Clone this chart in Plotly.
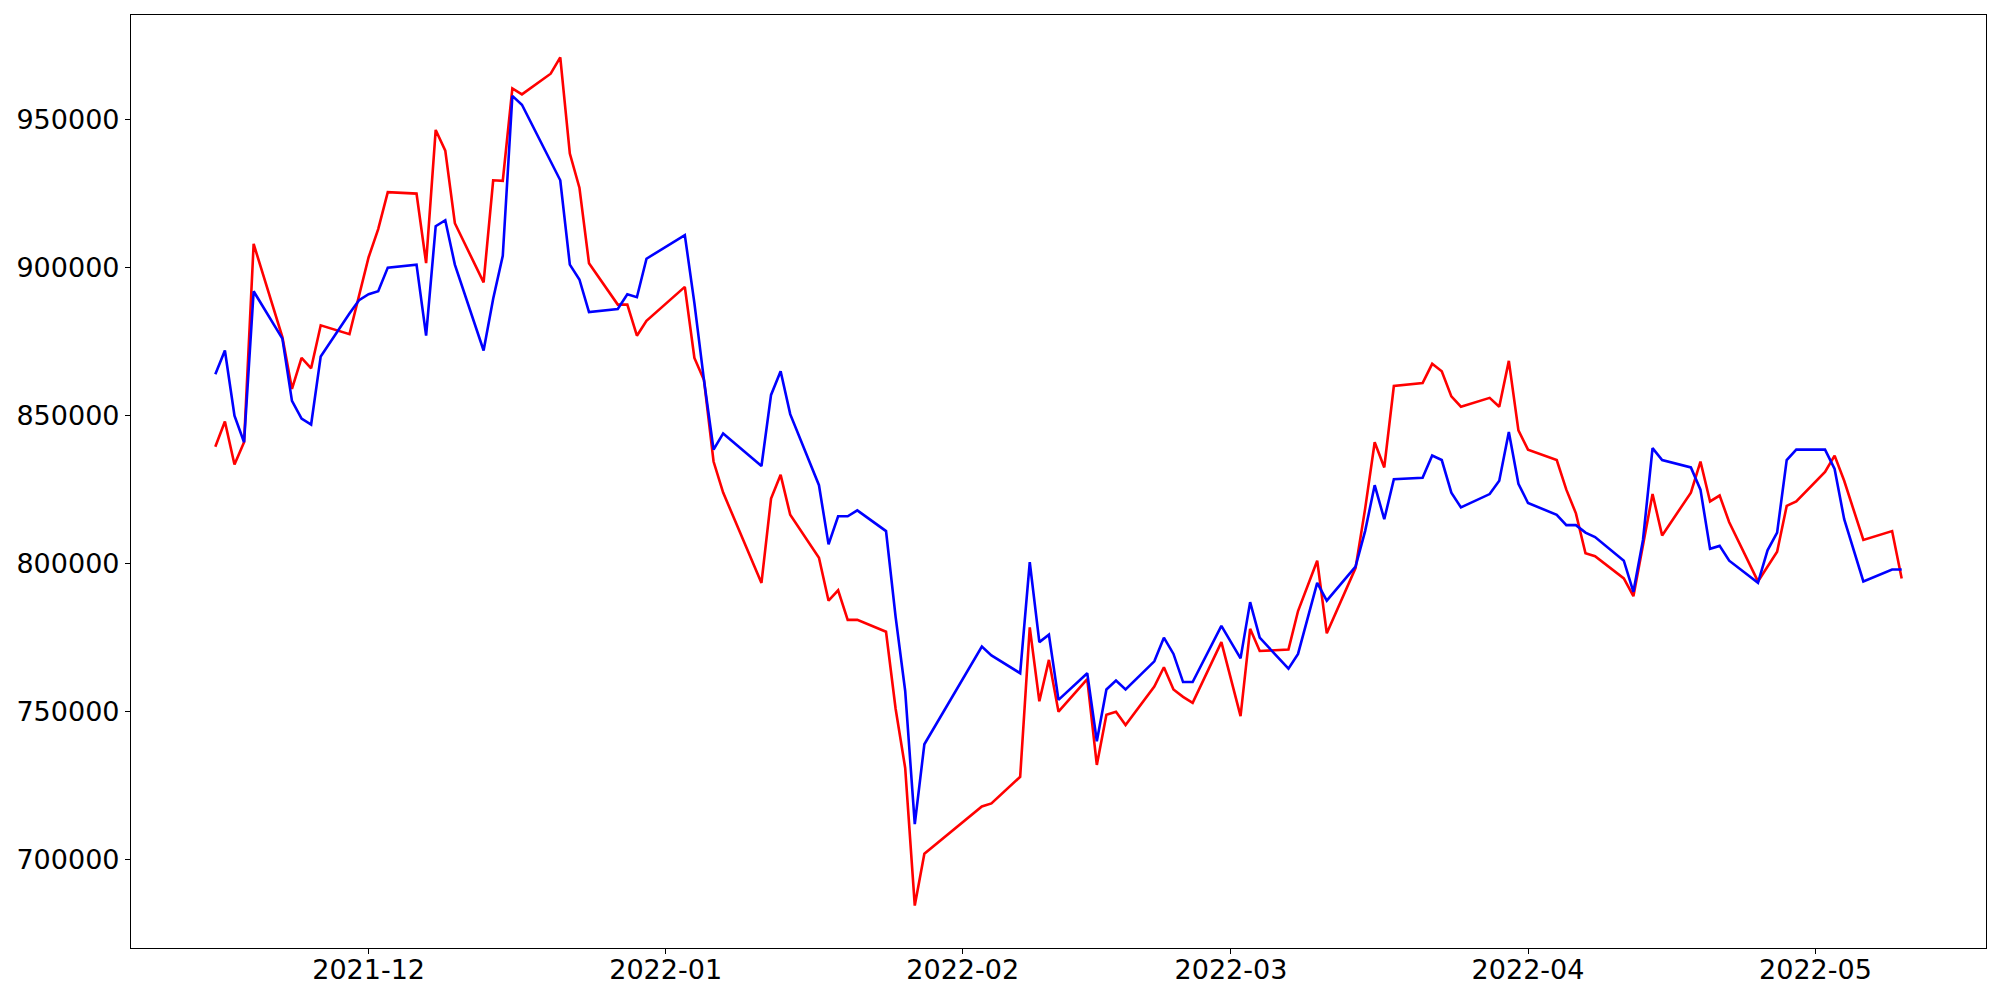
import pandas as pd
import plotly.graph_objects as go

dates = [
    "2021-11-15", "2021-11-16", "2021-11-17", "2021-11-18", "2021-11-19",
    "2021-11-22", "2021-11-23", "2021-11-24", "2021-11-25", "2021-11-26",
    "2021-11-29", "2021-11-30",
    "2021-12-01", "2021-12-02", "2021-12-03",
    "2021-12-06", "2021-12-07", "2021-12-08", "2021-12-09", "2021-12-10",
    "2021-12-13", "2021-12-14", "2021-12-15", "2021-12-16", "2021-12-17",
    "2021-12-20", "2021-12-21", "2021-12-22", "2021-12-23", "2021-12-24",
    "2021-12-27", "2021-12-28", "2021-12-29", "2021-12-30",
    "2022-01-03", "2022-01-04", "2022-01-05", "2022-01-06", "2022-01-07",
    "2022-01-11", "2022-01-12", "2022-01-13", "2022-01-14",
    "2022-01-17", "2022-01-18", "2022-01-19", "2022-01-20", "2022-01-21",
    "2022-01-24", "2022-01-25", "2022-01-26", "2022-01-27", "2022-01-28",
    "2022-02-03", "2022-02-04",
    "2022-02-07", "2022-02-08", "2022-02-09", "2022-02-10", "2022-02-11",
    "2022-02-14", "2022-02-15", "2022-02-16", "2022-02-17", "2022-02-18",
    "2022-02-21", "2022-02-22", "2022-02-23", "2022-02-24", "2022-02-25",
    "2022-02-28", "2022-03-02", "2022-03-03", "2022-03-04",
    "2022-03-07", "2022-03-08", "2022-03-10", "2022-03-11",
    "2022-03-14", "2022-03-15", "2022-03-16", "2022-03-17", "2022-03-18",
    "2022-03-21", "2022-03-22", "2022-03-23", "2022-03-24", "2022-03-25",
    "2022-03-28", "2022-03-29", "2022-03-30", "2022-03-31", "2022-04-01",
    "2022-04-04", "2022-04-05", "2022-04-06", "2022-04-07", "2022-04-08",
    "2022-04-11", "2022-04-12", "2022-04-13", "2022-04-14", "2022-04-15",
    "2022-04-18", "2022-04-19", "2022-04-20", "2022-04-21", "2022-04-22",
    "2022-04-25", "2022-04-26", "2022-04-27", "2022-04-28", "2022-04-29",
    "2022-05-02", "2022-05-03", "2022-05-04", "2022-05-06", "2022-05-09", "2022-05-10",
]

red_values = [
    839500, 848000, 833500, 841000, 908000, 876500, 859000, 869500, 866000, 880500, 877500, 890000,
    903500, 913000, 925500,
    925000, 901500, 946500, 939500, 915000,
    895000, 929500, 929300, 960500, 958500,
    965500, 971000, 938500, 927000, 901500,
    887500, 887500, 877000, 882000,
    893500, 869500, 862000, 834500, 824000,
    793500, 822000, 830000, 816500,
    802000, 787500, 791000, 781000, 781000,
    777000, 751000, 731000, 684500, 702000,
    718000, 719000,
    728000, 778500, 753500, 767500, 750000,
    761000, 732000, 749000, 750000, 745500,
    758500, 765000, 757500, 755000, 753000,
    773500, 748500, 778000, 770500,
    771000, 784000, 801000, 776500,
    798500, 818500, 841000, 832500, 860000,
    861000, 867500, 865000, 856500, 853000,
    856000, 853000, 868500, 845000, 838500,
    835000, 825000, 817000, 803500, 802500,
    795000, 789000, 806000, 823500, 809500,
    824000, 834500, 821000, 823000, 814000,
    794000, 799000, 804000, 819500, 821000,
    831000, 836500, 828000, 808000, 811000, 795000,
]

blue_values = [
    864000, 872000, 850000, 841000, 892000, 876000, 855000, 849000, 847000, 870000, 884500, 889000,
    891000, 892000, 900000,
    901000, 877000, 914000, 916000, 901000,
    872000, 889500, 904000, 958000, 955000,
    936000, 929500, 901000, 896000, 885000,
    886000, 891000, 890000, 903000,
    911000, 888000, 862000, 838500, 844000,
    833000, 857000, 865000, 850500,
    826500, 806500, 816000, 816000, 818000,
    811000, 782000, 757000, 712000, 739000,
    772000, 769000,
    763000, 800500, 773500, 776000, 754000,
    763000, 740000, 757500, 760500, 757500,
    767000, 775000, 769500, 760000, 760000,
    779000, 768000, 787000, 775000,
    764500, 769500, 793500, 787500,
    799000, 811000, 826500, 815000, 828500,
    829000, 836500, 835000, 824000, 819000,
    823500, 828000, 844500, 827000, 820500,
    816500, 813000, 813000, 810500, 809000,
    801000, 790500, 808000, 839000, 835000,
    832500, 825000, 805000, 806000, 801000,
    793500, 804500, 810500, 835000, 838500,
    838500, 832000, 815000, 794000, 798000, 798000,
]

y_ticks = [700000, 750000, 800000, 850000, 900000, 950000]

x = pd.to_datetime(dates)

# matplotlib-like 5% margins
x0, x1 = x.min(), x.max()
xpad = (x1 - x0) * 0.05
all_vals = red_values + blue_values
ymin, ymax = min(all_vals), max(all_vals)
ypad = (ymax - ymin) * 0.05

fig = go.Figure()
fig.add_trace(go.Scatter(x=x, y=red_values, mode="lines",
                         line=dict(color="red", width=2.6), name="red"))
fig.add_trace(go.Scatter(x=x, y=blue_values, mode="lines",
                         line=dict(color="blue", width=2.6), name="blue"))

axis_common = dict(showgrid=False, zeroline=False, showline=True, mirror=True,
                   linecolor="black", linewidth=1.2, ticks="outside",
                   ticklen=5, tickwidth=1.2, tickcolor="black", automargin=False,
                   tickfont=dict(family="DejaVu Sans", size=27, color="black"))

# page body has an 8px default margin, so the figure is sized to fill the window
fig.update_layout(
    width=1992, height=992,
    margin=dict(l=123, r=14, t=7, b=52),
    paper_bgcolor="white", plot_bgcolor="white",
    showlegend=False,
    font=dict(family="DejaVu Sans", size=27, color="black"),
)
fig.update_xaxes(range=[x0 - xpad, x1 + xpad], tick0="2021-12-01", dtick="M1",
                 tickformat="%Y-%m", ticklabelstandoff=-8, **axis_common)
fig.update_yaxes(range=[ymin - ypad, ymax + ypad], tickvals=y_ticks,
                 tickformat="d", **axis_common)

fig.write_html("out.html")
